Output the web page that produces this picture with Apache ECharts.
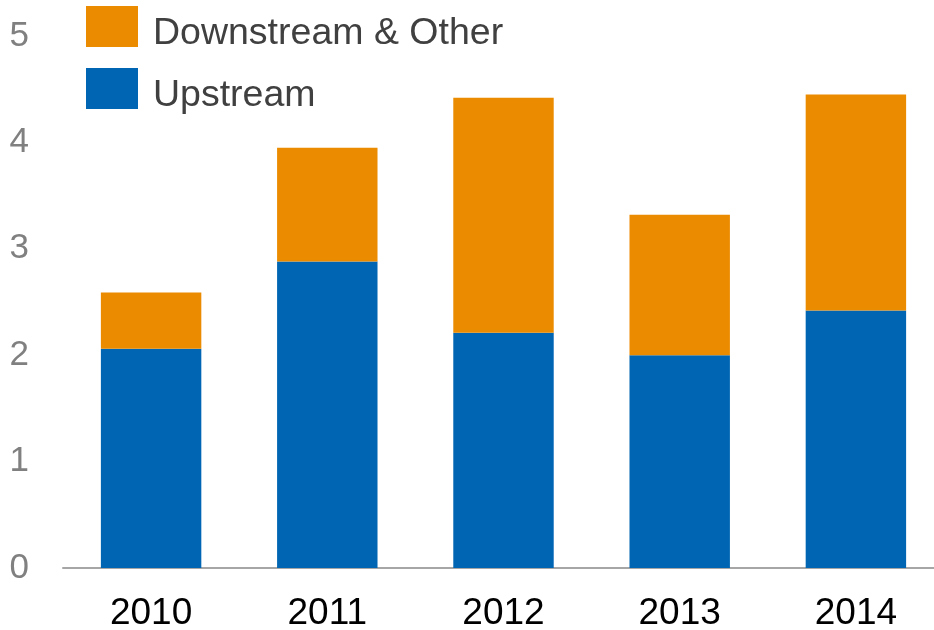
<!DOCTYPE html>
<html>
<head>
<meta charset="utf-8">
<script src="https://cdn.jsdelivr.net/npm/echarts@6/dist/echarts.min.js"></script>
<style>
  html, body { margin: 0; padding: 0; background: #fff; overflow: hidden; }
  #chart { width: 934px; height: 630px; }
</style>
</head>
<body>
<div id="chart"></div>
<script>
// Categories and stacked series values
const years = ['2010', '2011', '2012', '2013', '2014'];
const upstream = [2.06, 2.88, 2.21, 2.00, 2.42];
const downstreamOther = [0.53, 1.07, 2.21, 1.32, 2.03];
const yTicks = { min: 0, max: 5, interval: 1 };

const chart = echarts.init(document.getElementById('chart'));
chart.setOption({
  animation: false,
  backgroundColor: '#ffffff',
  textStyle: { fontFamily: 'Liberation Sans, Arial, sans-serif' },
  legend: {
    orient: 'vertical',
    left: 86,
    top: 0,
    padding: 0,
    itemWidth: 52,
    itemHeight: 41,
    itemGap: 9,
    icon: 'rect',
    data: ['Downstream & Other', 'Upstream'],
    formatter: '{t|{name}}',
    textStyle: {
      rich: {
        t: {
          fontSize: 37.5,
          color: '#404040',
          lineHeight: 41,
          padding: [15, 0, 0, 10]
        }
      }
    }
  },
  grid: { left: 63, top: 36, bottom: 62, width: 881, outerBoundsMode: 'none' },
  xAxis: {
    type: 'category',
    data: years,
    axisLine: { lineStyle: { color: '#a6a6a6', width: 2 } },
    axisTick: { show: false },
    axisLabel: { fontSize: 37, color: '#000000', margin: 27 }
  },
  yAxis: {
    type: 'value',
    min: yTicks.min,
    max: yTicks.max,
    interval: yTicks.interval,
    splitLine: { show: false },
    axisLine: { show: false },
    axisTick: { show: false },
    axisLabel: { fontSize: 35, color: '#808080', margin: 34 }
  },
  series: [
    {
      name: 'Upstream',
      type: 'bar',
      stack: 'total',
      barWidth: '57%',
      data: upstream,
      itemStyle: { color: '#0066b3' }
    },
    {
      name: 'Downstream & Other',
      type: 'bar',
      stack: 'total',
      barWidth: '57%',
      data: downstreamOther,
      itemStyle: { color: '#eb8c00' }
    }
  ]
});
</script>
</body>
</html>
